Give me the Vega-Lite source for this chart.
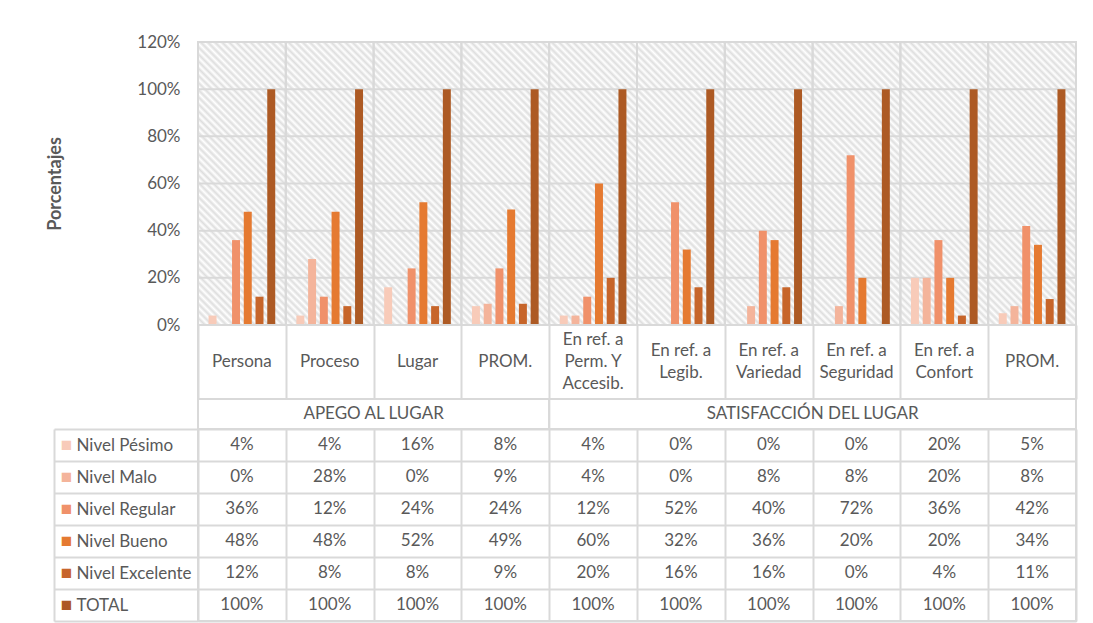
{
  "$schema": "https://vega.github.io/schema/vega-lite/v6.json",
  "padding": {"left": 45, "top": 32, "right": 10, "bottom": 0},
  "background": "white",
  "spacing": 0,
  "bounds": "flush",
  "config": {
    "view": {"stroke": "#d9d9d9", "strokeWidth": 2},
    "font": "Lato",
    "axis": {"labelFont": "Lato", "labelFontSize": 17, "labelColor": "#595959", "titleFont": "Lato", "titleColor": "#595959"}
  },
  "datasets": {
    "cats": [
      {"id": "c01", "label": "Persona"},
      {"id": "c02", "label": "Proceso"},
      {"id": "c03", "label": "Lugar"},
      {"id": "c04", "label": "PROM."},
      {"id": "c05", "label": "En ref. a\nPerm. Y\nAccesib."},
      {"id": "c06", "label": "En ref. a\nLegib."},
      {"id": "c07", "label": "En ref. a\nVariedad"},
      {"id": "c08", "label": "En ref. a\nSeguridad"},
      {"id": "c09", "label": "En ref. a\nConfort"},
      {"id": "c10", "label": "PROM."}
    ],
    "groups": [
      {"group": "APEGO AL LUGAR", "anchor": "c03"},
      {"group": "SATISFACCIÓN DEL LUGAR", "anchor": "c08"}
    ],
    "ticks": [{"tick": 0}, {"tick": 0.2}, {"tick": 0.4}, {"tick": 0.6}, {"tick": 0.8}, {"tick": 1.0}, {"tick": 1.2}],
    "values": [
      {"cat": "c01", "series": "Nivel Pésimo", "value": 0.04},
      {"cat": "c01", "series": "Nivel Malo", "value": 0.0},
      {"cat": "c01", "series": "Nivel Regular", "value": 0.36},
      {"cat": "c01", "series": "Nivel Bueno", "value": 0.48},
      {"cat": "c01", "series": "Nivel Excelente", "value": 0.12},
      {"cat": "c01", "series": "TOTAL", "value": 1.0},
      {"cat": "c02", "series": "Nivel Pésimo", "value": 0.04},
      {"cat": "c02", "series": "Nivel Malo", "value": 0.28},
      {"cat": "c02", "series": "Nivel Regular", "value": 0.12},
      {"cat": "c02", "series": "Nivel Bueno", "value": 0.48},
      {"cat": "c02", "series": "Nivel Excelente", "value": 0.08},
      {"cat": "c02", "series": "TOTAL", "value": 1.0},
      {"cat": "c03", "series": "Nivel Pésimo", "value": 0.16},
      {"cat": "c03", "series": "Nivel Malo", "value": 0.0},
      {"cat": "c03", "series": "Nivel Regular", "value": 0.24},
      {"cat": "c03", "series": "Nivel Bueno", "value": 0.52},
      {"cat": "c03", "series": "Nivel Excelente", "value": 0.08},
      {"cat": "c03", "series": "TOTAL", "value": 1.0},
      {"cat": "c04", "series": "Nivel Pésimo", "value": 0.08},
      {"cat": "c04", "series": "Nivel Malo", "value": 0.09},
      {"cat": "c04", "series": "Nivel Regular", "value": 0.24},
      {"cat": "c04", "series": "Nivel Bueno", "value": 0.49},
      {"cat": "c04", "series": "Nivel Excelente", "value": 0.09},
      {"cat": "c04", "series": "TOTAL", "value": 1.0},
      {"cat": "c05", "series": "Nivel Pésimo", "value": 0.04},
      {"cat": "c05", "series": "Nivel Malo", "value": 0.04},
      {"cat": "c05", "series": "Nivel Regular", "value": 0.12},
      {"cat": "c05", "series": "Nivel Bueno", "value": 0.60},
      {"cat": "c05", "series": "Nivel Excelente", "value": 0.20},
      {"cat": "c05", "series": "TOTAL", "value": 1.0},
      {"cat": "c06", "series": "Nivel Pésimo", "value": 0.0},
      {"cat": "c06", "series": "Nivel Malo", "value": 0.0},
      {"cat": "c06", "series": "Nivel Regular", "value": 0.52},
      {"cat": "c06", "series": "Nivel Bueno", "value": 0.32},
      {"cat": "c06", "series": "Nivel Excelente", "value": 0.16},
      {"cat": "c06", "series": "TOTAL", "value": 1.0},
      {"cat": "c07", "series": "Nivel Pésimo", "value": 0.0},
      {"cat": "c07", "series": "Nivel Malo", "value": 0.08},
      {"cat": "c07", "series": "Nivel Regular", "value": 0.40},
      {"cat": "c07", "series": "Nivel Bueno", "value": 0.36},
      {"cat": "c07", "series": "Nivel Excelente", "value": 0.16},
      {"cat": "c07", "series": "TOTAL", "value": 1.0},
      {"cat": "c08", "series": "Nivel Pésimo", "value": 0.0},
      {"cat": "c08", "series": "Nivel Malo", "value": 0.08},
      {"cat": "c08", "series": "Nivel Regular", "value": 0.72},
      {"cat": "c08", "series": "Nivel Bueno", "value": 0.20},
      {"cat": "c08", "series": "Nivel Excelente", "value": 0.0},
      {"cat": "c08", "series": "TOTAL", "value": 1.0},
      {"cat": "c09", "series": "Nivel Pésimo", "value": 0.20},
      {"cat": "c09", "series": "Nivel Malo", "value": 0.20},
      {"cat": "c09", "series": "Nivel Regular", "value": 0.36},
      {"cat": "c09", "series": "Nivel Bueno", "value": 0.20},
      {"cat": "c09", "series": "Nivel Excelente", "value": 0.04},
      {"cat": "c09", "series": "TOTAL", "value": 1.0},
      {"cat": "c10", "series": "Nivel Pésimo", "value": 0.05},
      {"cat": "c10", "series": "Nivel Malo", "value": 0.08},
      {"cat": "c10", "series": "Nivel Regular", "value": 0.42},
      {"cat": "c10", "series": "Nivel Bueno", "value": 0.34},
      {"cat": "c10", "series": "Nivel Excelente", "value": 0.11},
      {"cat": "c10", "series": "TOTAL", "value": 1.0}
    ]
  },
  "vconcat": [
    {
      "width": 878,
      "height": 283,
      "layer": [
        {
          "data": {"name": "cats"},
          "mark": {
            "type": "rect",
            "fill": {
              "gradient": "linear", "x1": 0, "y1": 1, "x2": 0.3722, "y2": -0.1955,
              "stops": [
                {"offset": 0, "color": "#dedede"}, {"offset": 0.0096, "color": "#ffffff"}, {"offset": 0.0192, "color": "#dedede"}, {"offset": 0.0288, "color": "#ffffff"},
                {"offset": 0.0385, "color": "#dedede"}, {"offset": 0.0481, "color": "#ffffff"}, {"offset": 0.0577, "color": "#dedede"}, {"offset": 0.0673, "color": "#ffffff"},
                {"offset": 0.0769, "color": "#dedede"}, {"offset": 0.0865, "color": "#ffffff"}, {"offset": 0.0962, "color": "#dedede"}, {"offset": 0.1058, "color": "#ffffff"},
                {"offset": 0.1154, "color": "#dedede"}, {"offset": 0.125, "color": "#ffffff"}, {"offset": 0.1346, "color": "#dedede"}, {"offset": 0.1442, "color": "#ffffff"},
                {"offset": 0.1538, "color": "#dedede"}, {"offset": 0.1635, "color": "#ffffff"}, {"offset": 0.1731, "color": "#dedede"}, {"offset": 0.1827, "color": "#ffffff"},
                {"offset": 0.1923, "color": "#dedede"}, {"offset": 0.2019, "color": "#ffffff"}, {"offset": 0.2115, "color": "#dedede"}, {"offset": 0.2212, "color": "#ffffff"},
                {"offset": 0.2308, "color": "#dedede"}, {"offset": 0.2404, "color": "#ffffff"}, {"offset": 0.25, "color": "#dedede"}, {"offset": 0.2596, "color": "#ffffff"},
                {"offset": 0.2692, "color": "#dedede"}, {"offset": 0.2788, "color": "#ffffff"}, {"offset": 0.2885, "color": "#dedede"}, {"offset": 0.2981, "color": "#ffffff"},
                {"offset": 0.3077, "color": "#dedede"}, {"offset": 0.3173, "color": "#ffffff"}, {"offset": 0.3269, "color": "#dedede"}, {"offset": 0.3365, "color": "#ffffff"},
                {"offset": 0.3462, "color": "#dedede"}, {"offset": 0.3558, "color": "#ffffff"}, {"offset": 0.3654, "color": "#dedede"}, {"offset": 0.375, "color": "#ffffff"},
                {"offset": 0.3846, "color": "#dedede"}, {"offset": 0.3942, "color": "#ffffff"}, {"offset": 0.4038, "color": "#dedede"}, {"offset": 0.4135, "color": "#ffffff"},
                {"offset": 0.4231, "color": "#dedede"}, {"offset": 0.4327, "color": "#ffffff"}, {"offset": 0.4423, "color": "#dedede"}, {"offset": 0.4519, "color": "#ffffff"},
                {"offset": 0.4615, "color": "#dedede"}, {"offset": 0.4712, "color": "#ffffff"}, {"offset": 0.4808, "color": "#dedede"}, {"offset": 0.4904, "color": "#ffffff"},
                {"offset": 0.5, "color": "#dedede"}, {"offset": 0.5096, "color": "#ffffff"}, {"offset": 0.5192, "color": "#dedede"}, {"offset": 0.5288, "color": "#ffffff"},
                {"offset": 0.5385, "color": "#dedede"}, {"offset": 0.5481, "color": "#ffffff"}, {"offset": 0.5577, "color": "#dedede"}, {"offset": 0.5673, "color": "#ffffff"},
                {"offset": 0.5769, "color": "#dedede"}, {"offset": 0.5865, "color": "#ffffff"}, {"offset": 0.5962, "color": "#dedede"}, {"offset": 0.6058, "color": "#ffffff"},
                {"offset": 0.6154, "color": "#dedede"}, {"offset": 0.625, "color": "#ffffff"}, {"offset": 0.6346, "color": "#dedede"}, {"offset": 0.6442, "color": "#ffffff"},
                {"offset": 0.6538, "color": "#dedede"}, {"offset": 0.6635, "color": "#ffffff"}, {"offset": 0.6731, "color": "#dedede"}, {"offset": 0.6827, "color": "#ffffff"},
                {"offset": 0.6923, "color": "#dedede"}, {"offset": 0.7019, "color": "#ffffff"}, {"offset": 0.7115, "color": "#dedede"}, {"offset": 0.7212, "color": "#ffffff"},
                {"offset": 0.7308, "color": "#dedede"}, {"offset": 0.7404, "color": "#ffffff"}, {"offset": 0.75, "color": "#dedede"}, {"offset": 0.7596, "color": "#ffffff"},
                {"offset": 0.7692, "color": "#dedede"}, {"offset": 0.7788, "color": "#ffffff"}, {"offset": 0.7885, "color": "#dedede"}, {"offset": 0.7981, "color": "#ffffff"},
                {"offset": 0.8077, "color": "#dedede"}, {"offset": 0.8173, "color": "#ffffff"}, {"offset": 0.8269, "color": "#dedede"}, {"offset": 0.8365, "color": "#ffffff"},
                {"offset": 0.8462, "color": "#dedede"}, {"offset": 0.8558, "color": "#ffffff"}, {"offset": 0.8654, "color": "#dedede"}, {"offset": 0.875, "color": "#ffffff"},
                {"offset": 0.8846, "color": "#dedede"}, {"offset": 0.8942, "color": "#ffffff"}, {"offset": 0.9038, "color": "#dedede"}, {"offset": 0.9135, "color": "#ffffff"},
                {"offset": 0.9231, "color": "#dedede"}, {"offset": 0.9327, "color": "#ffffff"}, {"offset": 0.9423, "color": "#dedede"}, {"offset": 0.9519, "color": "#ffffff"},
                {"offset": 0.9615, "color": "#dedede"}, {"offset": 0.9712, "color": "#ffffff"}, {"offset": 0.9808, "color": "#dedede"}, {"offset": 0.9904, "color": "#ffffff"},
                {"offset": 1, "color": "#dedede"}
              ]
            }
          },
          "encoding": {
            "x": {"field": "id", "type": "nominal", "scale": {"domain": ["c01","c02","c03","c04","c05","c06","c07","c08","c09","c10"], "paddingInner": 0, "paddingOuter": 0}, "axis": null},
            "y": {"datum": 0, "type": "quantitative", "scale": {"domain": [0, 1.2], "nice": false}, "title": "Porcentajes",
                  "axis": {"values": [0, 0.2, 0.4, 0.6, 0.8, 1, 1.2], "format": ".0%", "grid": false, "domain": false, "ticks": false, "labelPadding": 18, "titleFontWeight": "bold", "titleFontSize": 18, "titlePadding": 72}},
            "y2": {"datum": 1.2}
          }
        },
        {
          "data": {"name": "ticks"},
          "mark": {"type": "rule", "stroke": "#d9d9d9", "strokeWidth": 2},
          "encoding": {
            "y": {"field": "tick", "type": "quantitative", "title": "Porcentajes",
                  "axis": {"values": [0, 0.2, 0.4, 0.6, 0.8, 1, 1.2], "format": ".0%", "grid": false, "domain": false, "ticks": false, "labelPadding": 18, "titleFontWeight": "bold", "titleFontSize": 18, "titlePadding": 72}}
          }
        },
        {
          "data": {"name": "cats"},
          "mark": {"type": "rule", "stroke": "#d9d9d9", "strokeWidth": 2},
          "encoding": {"x": {"field": "id", "type": "nominal", "bandPosition": 0, "axis": null}}
        },
        {
          "data": {"name": "cats"},
          "mark": {"type": "rule", "stroke": "#d9d9d9", "strokeWidth": 2},
          "encoding": {"x": {"field": "id", "type": "nominal", "bandPosition": 1, "axis": null}}
        },
        {
          "data": {"name": "values"},
          "mark": {"type": "bar"},
          "encoding": {
            "x": {"field": "cat", "type": "nominal", "axis": null},
            "xOffset": {"field": "series", "type": "nominal", "sort": ["Nivel Pésimo","Nivel Malo","Nivel Regular","Nivel Bueno","Nivel Excelente","TOTAL"], "scale": {"paddingInner": 0.32, "paddingOuter": 0.9}},
            "y": {"field": "value", "type": "quantitative", "title": "Porcentajes",
                  "axis": {"values": [0, 0.2, 0.4, 0.6, 0.8, 1, 1.2], "format": ".0%", "grid": false, "domain": false, "ticks": false, "labelPadding": 18, "titleFontWeight": "bold", "titleFontSize": 18, "titlePadding": 72}},
            "color": {"field": "series", "type": "nominal", "legend": null,
                      "scale": {"domain": ["Nivel Pésimo","Nivel Malo","Nivel Regular","Nivel Bueno","Nivel Excelente","TOTAL"],
                                "range": ["#F8CBB9","#F4B49B","#F0916A","#E57A31","#C7652A","#AD5A24"]}}
          }
        }
      ]
    },
    {
      "width": 878,
      "height": 74,
      "data": {"name": "cats"},
      "encoding": {
        "x": {"field": "id", "type": "nominal", "scale": {"domain": ["c01","c02","c03","c04","c05","c06","c07","c08","c09","c10"], "paddingInner": 0, "paddingOuter": 0},
              "axis": {"grid": true, "gridColor": "#d9d9d9", "gridWidth": 2, "tickBand": "extent", "labels": false, "ticks": false, "domain": false, "title": null}},
        "text": {"field": "label", "type": "nominal"}
      },
      "layer": [
        {
          "transform": [{"filter": "indexof(datum.label, '\\n') < 0"}],
          "mark": {"type": "text", "font": "Lato", "fontSize": 17, "color": "#595959", "lineBreak": "\n", "lineHeight": 22}
        },
        {
          "transform": [{"filter": "indexof(datum.label, '\\n') >= 0 && indexof(datum.label, '\\n') == lastindexof(datum.label, '\\n')"}],
          "mark": {"type": "text", "font": "Lato", "fontSize": 17, "color": "#595959", "lineBreak": "\n", "lineHeight": 22, "dy": -11}
        },
        {
          "transform": [{"filter": "indexof(datum.label, '\\n') >= 0 && indexof(datum.label, '\\n') != lastindexof(datum.label, '\\n')"}],
          "mark": {"type": "text", "font": "Lato", "fontSize": 17, "color": "#595959", "lineBreak": "\n", "lineHeight": 22, "dy": -22}
        }
      ]
    },
    {
      "width": 878,
      "height": 30,
      "data": {"name": "groups"},
      "layer": [
        {
          "mark": {"type": "text", "font": "Lato", "fontSize": 17, "color": "#595959"},
          "encoding": {
            "x": {"field": "anchor", "type": "nominal", "bandPosition": 0, "scale": {"domain": ["c01","c02","c03","c04","c05","c06","c07","c08","c09","c10"], "paddingInner": 0, "paddingOuter": 0}, "axis": null},
            "text": {"field": "group", "type": "nominal"}
          }
        },
        {
          "mark": {"type": "rule", "stroke": "#d9d9d9", "strokeWidth": 2},
          "encoding": {"x": {"datum": "c05", "type": "nominal", "bandPosition": 0, "axis": null}}
        }
      ]
    },
    {
      "width": 878,
      "height": 192,
      "data": {"name": "values"},
      "resolve": {"axis": {"y": "independent"}},
      "layer": [
        {
          "mark": {"type": "text", "font": "Lato", "fontSize": 17, "color": "#595959"},
          "encoding": {
            "x": {"field": "cat", "type": "nominal", "scale": {"domain": ["c01","c02","c03","c04","c05","c06","c07","c08","c09","c10"], "paddingInner": 0, "paddingOuter": 0},
                  "axis": {"grid": true, "gridColor": "#d9d9d9", "gridWidth": 2, "tickBand": "extent", "labels": false, "ticks": false, "domain": false, "title": null}},
            "y": {"field": "series", "type": "nominal", "sort": ["Nivel Pésimo","Nivel Malo","Nivel Regular","Nivel Bueno","Nivel Excelente","TOTAL"], "scale": {"paddingInner": 0, "paddingOuter": 0},
                  "axis": {"orient": "left", "title": null, "grid": true, "gridColor": "#d9d9d9", "gridWidth": 2, "tickBand": "extent", "ticks": false, "domain": false, "labelAlign": "left", "labelPadding": 122}},
            "text": {"field": "value", "type": "quantitative", "format": ".0%"}
          }
        },
        {
          "mark": {"type": "text", "opacity": 0},
          "encoding": {
            "y": {"field": "series", "type": "nominal", "sort": ["Nivel Pésimo","Nivel Malo","Nivel Regular","Nivel Bueno","Nivel Excelente","TOTAL"],
                  "axis": {"orient": "left", "title": null, "grid": false, "ticks": false, "domain": false, "labelAlign": "center", "labelPadding": 132, "labelFontSize": 19, "labelExpr": "'■'",
                           "labelColor": {"expr": "datum.value == 'Nivel Pésimo' ? '#F8CBB9' : datum.value == 'Nivel Malo' ? '#F4B49B' : datum.value == 'Nivel Regular' ? '#F0916A' : datum.value == 'Nivel Bueno' ? '#E57A31' : datum.value == 'Nivel Excelente' ? '#C7652A' : '#AD5A24'"}}}
          }
        },
        {
          "mark": {"type": "text", "opacity": 0},
          "encoding": {
            "y": {"field": "series", "type": "nominal", "sort": ["Nivel Pésimo","Nivel Malo","Nivel Regular","Nivel Bueno","Nivel Excelente","TOTAL"],
                  "axis": {"orient": "left", "offset": 144, "title": null, "grid": false, "labels": false, "ticks": true, "tickSize": -144, "tickBand": "extent", "tickColor": "#d9d9d9", "tickWidth": 2, "domain": true, "domainColor": "#d9d9d9", "domainWidth": 2}}
          }
        }
      ]
    }
  ]
}
